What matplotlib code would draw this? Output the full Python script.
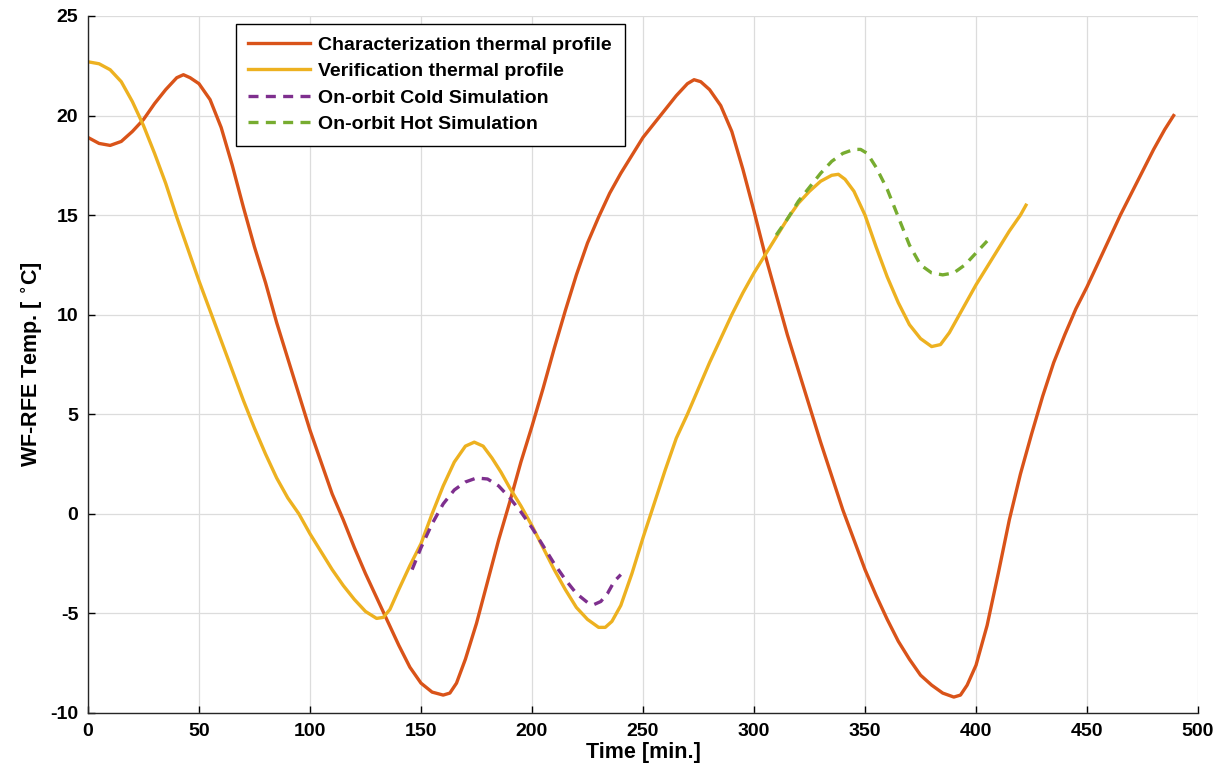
import matplotlib
matplotlib.use("Agg")
import matplotlib.pyplot as plt

# Characterization thermal profile
t_char = [0, 5, 10, 15, 20, 25, 30, 35, 40, 43, 46, 50, 55, 60, 65, 70, 75, 80,
          85, 90, 95, 100, 105, 110, 115, 120, 125, 130, 135, 140, 145, 150,
          155, 160, 163, 166, 170, 175, 180, 185, 190, 195, 200, 205, 210, 215,
          220, 225, 230, 235, 240, 245, 250, 255, 260, 265, 270, 273, 276, 280,
          285, 290, 295, 300, 305, 310, 315, 320, 325, 330, 335, 340, 345, 350,
          355, 360, 365, 370, 375, 380, 385, 390, 393, 396, 400, 405, 410, 415,
          420, 425, 430, 435, 440, 445, 450, 455, 460, 465, 470, 475, 480, 485,
          489]
T_char = [18.9, 18.6, 18.5, 18.7, 19.2, 19.8, 20.6, 21.3, 21.9, 22.05, 21.9,
          21.6, 20.8, 19.4, 17.5, 15.4, 13.4, 11.6, 9.6, 7.8, 6.0, 4.2, 2.6, 1.0,
          -0.3, -1.7, -3.0, -4.2, -5.4, -6.6, -7.7, -8.5, -8.95, -9.1, -9.0, -8.5,
          -7.3, -5.5, -3.4, -1.3, 0.6, 2.6, 4.4, 6.3, 8.3, 10.2, 12.0, 13.6, 14.9,
          16.1, 17.1, 18.0, 18.9, 19.6, 20.3, 21.0, 21.6, 21.8, 21.7, 21.3, 20.5,
          19.2, 17.3, 15.2, 13.0, 11.0, 9.0, 7.2, 5.4, 3.6, 1.9, 0.2, -1.3, -2.8,
          -4.1, -5.3, -6.4, -7.3, -8.1, -8.6, -9.0, -9.2, -9.1, -8.6, -7.6, -5.6,
          -3.0, -0.3, 2.0, 4.0, 5.9, 7.6, 9.0, 10.3, 11.4, 12.6, 13.8, 15.0, 16.1,
          17.2, 18.3, 19.3, 20.0]

# Verification thermal profile
t_ver = [0, 5, 10, 15, 20, 25, 30, 35, 40, 45, 50, 55, 60, 65, 70, 75, 80, 85,
         90, 95, 100, 105, 110, 115, 120, 125, 130, 133, 136, 140, 145, 150, 155,
         160, 165, 170, 174, 178, 182, 186, 190, 195, 200, 205, 210, 215, 220,
         225, 230, 233, 236, 240, 245, 250, 255, 260, 265, 270, 275, 280, 285,
         290, 295, 300, 305, 310, 315, 320, 325, 330, 335, 338, 341, 345, 350,
         355, 360, 365, 370, 375, 380, 384, 388, 392, 396, 400, 405, 410, 415,
         420, 422.5]
T_ver = [22.7, 22.6, 22.3, 21.7, 20.7, 19.5, 18.1, 16.6, 14.9, 13.3, 11.7, 10.2,
         8.7, 7.2, 5.7, 4.3, 3.0, 1.8, 0.8, 0.0, -1.0, -1.9, -2.8, -3.6, -4.3,
         -4.9, -5.25, -5.2, -4.8, -3.8, -2.6, -1.5, 0.0, 1.4, 2.6, 3.4, 3.6, 3.4,
         2.8, 2.1, 1.3, 0.4, -0.6, -1.7, -2.8, -3.8, -4.7, -5.3, -5.7, -5.7, -5.4,
         -4.6, -3.0, -1.2, 0.5, 2.2, 3.8, 5.0, 6.3, 7.6, 8.8, 10.0, 11.1, 12.1,
         13.0, 13.9, 14.8, 15.6, 16.2, 16.7, 17.0, 17.05, 16.8, 16.2, 15.0, 13.4,
         11.9, 10.6, 9.5, 8.8, 8.4, 8.5, 9.1, 9.9, 10.7, 11.5, 12.4, 13.3, 14.2,
         15.0, 15.5]

# On-orbit simulations
t_cold = [146, 150, 155, 160, 165, 170, 175, 180, 185, 190, 195, 200, 205, 210,
          215, 220, 225, 228, 231, 234, 237, 240]
T_cold = [-2.8, -1.7, -0.5, 0.5, 1.2, 1.6, 1.8, 1.75, 1.4, 0.8, 0.1, -0.7, -1.6,
          -2.5, -3.3, -4.0, -4.45, -4.55, -4.4, -4.0, -3.4, -3.05]

t_hot = [310, 315, 320, 325, 330, 335, 340, 345, 348, 351, 355, 360, 365, 370,
         375, 380, 385, 390, 395, 400, 405]
T_hot = [14.0, 14.8, 15.7, 16.4, 17.1, 17.7, 18.1, 18.3, 18.3, 18.1, 17.4, 16.3,
         14.9, 13.5, 12.5, 12.1, 12.0, 12.1, 12.5, 13.1, 13.7]

plt.rcParams["font.family"] = ["Liberation Sans", "DejaVu Sans"]
plt.rcParams["font.weight"] = "bold"
plt.rcParams["axes.unicode_minus"] = False

fig = plt.figure(figsize=(12.2, 7.83), dpi=100)
ax = fig.add_axes([0.0721, 0.0894, 0.9099, 0.8902])

lw = 2.4
ax.plot(t_char, T_char, color="#D95319", lw=lw, label="Characterization thermal profile")
ax.plot(t_ver, T_ver, color="#EDB120", lw=lw, label="Verification thermal profile")
ax.plot(t_cold, T_cold, color="#7E2F8E", lw=lw, ls=(0, (3, 2.2)), label="On-orbit Cold Simulation")
ax.plot(t_hot, T_hot, color="#77AC30", lw=lw, ls=(0, (3, 2.2)), label="On-orbit Hot Simulation")

ax.set_xlim(0, 500)
ax.set_ylim(-10, 25)
ax.set_xticks(range(0, 501, 50))
ax.set_yticks(range(-10, 26, 5))
ax.grid(True, color="#dcdcdc", lw=0.9)
ax.set_axisbelow(True)
for s in ("top", "right"):
    ax.spines[s].set_visible(False)
for s in ("left", "bottom"):
    ax.spines[s].set_linewidth(1.0)
    ax.spines[s].set_color("#262626")
ax.tick_params(direction="in", length=5, width=1, labelsize=14, pad=7)
for lab in ax.get_xticklabels() + ax.get_yticklabels():
    lab.set_fontweight("bold")

ax.set_xlabel("Time [min.]", fontsize=15.5, fontweight="bold", labelpad=2)
ax.set_ylabel(r"WF-RFE Temp. [ $^{\circ}$C]", fontsize=15.5, fontweight="bold", labelpad=4)

leg = ax.legend(loc="upper left", bbox_to_anchor=(0.133, 0.989), fontsize=14,
                frameon=True, fancybox=False, edgecolor="black", framealpha=1,
                handlelength=3.2, handletextpad=0.4, labelspacing=0.45,
                borderpad=0.65, borderaxespad=0)
leg.get_frame().set_linewidth(1.0)
for txt in leg.get_texts():
    txt.set_fontweight("bold")

fig.savefig("out.png", dpi=100)
